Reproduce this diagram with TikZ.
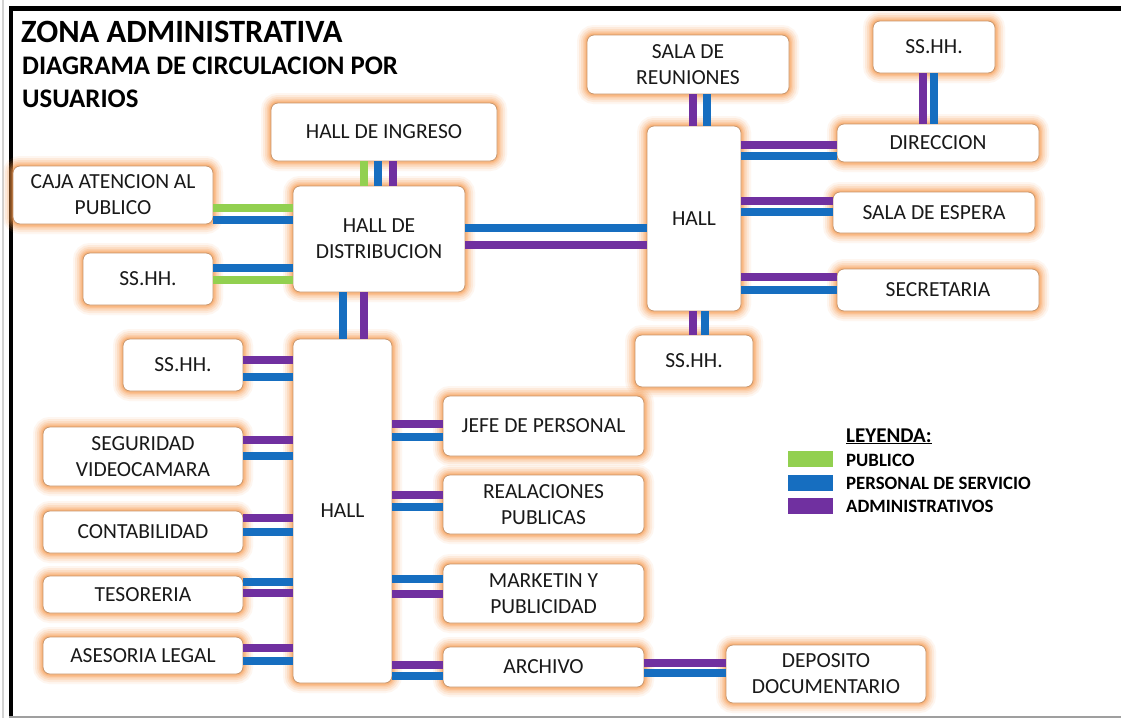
\documentclass[tikz,border=0pt]{standalone}
\usepackage{fontspec}
\setmainfont{Carlito}
\definecolor{cpub}{RGB}{146,208,80}
\definecolor{cser}{RGB}{22,110,192}
\definecolor{cadm}{RGB}{112,48,160}
\definecolor{glow}{RGB}{247,150,70}
\definecolor{boxline}{RGB}{200,150,110}
\definecolor{txt}{RGB}{25,25,25}
\begin{document}
\begin{tikzpicture}[x=1pt,y=-1pt,
  box/.style={rectangle, rounded corners=7pt, fill=white, draw=boxline, line width=0.8pt,
    align=center, font=\fontsize{21.5}{26}\selectfont, text=txt, inner sep=0pt,
    preaction={draw=glow, draw opacity=0.08, line width=20pt},
    preaction={draw=glow, draw opacity=0.12, line width=16pt},
    preaction={draw=glow, draw opacity=0.15, line width=12pt},
    preaction={draw=glow, draw opacity=0.19, line width=8.5pt},
    preaction={draw=glow, draw opacity=0.24, line width=5.5pt},
    preaction={draw=glow, draw opacity=0.3, line width=3pt}},
  pub/.style={line width=7.5pt, draw=cpub},
  ser/.style={line width=7.5pt, draw=cser},
  adm/.style={line width=7.5pt, draw=cadm},
  ttl/.style={anchor=base west, inner sep=0pt, text=black, font=\bfseries\fontsize{#1}{#1}\selectfont},
  leg/.style={anchor=base west, inner sep=0pt, text=black, font=\bfseries\fontsize{18.8}{18.8}\selectfont},
  swatch/.style={inner sep=0pt, minimum width=45pt, minimum height=16pt, fill=#1}
]
\fill[white] (0,0) rectangle (1121,718);
\useasboundingbox (0,0) rectangle (1121,718);
% frame
\draw[gray!35, line width=1.5pt] (3,0) -- (3,718);
\draw[line width=5pt, black] (9,8.5) -- (1121,8.5);
\draw[line width=4pt, black] (11,6) -- (11,716);
\draw[gray!75, line width=2pt] (9,716.5) -- (1121,716.5);

% titles
\node[ttl=32.5] (t1) at (21,42) {ZONA ADMINISTRATIVA};
\node[ttl=26.8] (t2) at (22,74) {DIAGRAMA DE CIRCULACION POR};
\node[ttl=26.8] (t3) at (22,107) {USUARIOS};

% boxes
\node[box, minimum width=226pt, minimum height=58pt] (ingreso) at (384,132) {HALL DE INGRESO};
\node[box, minimum width=200pt, minimum height=58pt] (caja) at (113,195) {CAJA ATENCION AL\\PUBLICO};
\node[box, minimum width=172pt, minimum height=106pt] (hd) at (379,239) {HALL DE\\DISTRIBUCION};
\node[box, minimum width=130pt, minimum height=52pt] (ss1) at (148,279) {SS.HH.};
\node[box, minimum width=202pt, minimum height=59pt] (reun) at (688,64.5) {SALA DE\\REUNIONES};
\node[box, minimum width=122pt, minimum height=52pt] (ss2) at (934,47) {SS.HH.};
\node[box, minimum width=94pt, minimum height=185pt] (hallR) at (694,218.5) {HALL};
\node[box, minimum width=202pt, minimum height=38pt] (dir) at (938,143) {DIRECCION};
\node[box, minimum width=202pt, minimum height=41pt] (esp) at (934,212.5) {SALA DE ESPERA};
\node[box, minimum width=202pt, minimum height=42pt] (sec) at (938,290) {SECRETARIA};
\node[box, minimum width=118pt, minimum height=52pt] (ss3) at (694,361) {SS.HH.};
\node[box, minimum width=120pt, minimum height=52pt] (ss4) at (183,365) {SS.HH.};
\node[box, minimum width=200pt, minimum height=59pt] (seg) at (143,456.5) {SEGURIDAD\\VIDEOCAMARA};
\node[box, minimum width=200pt, minimum height=42pt] (cont) at (143,532) {CONTABILIDAD};
\node[box, minimum width=200pt, minimum height=37pt] (tes) at (143,594.5) {TESORERIA};
\node[box, minimum width=200pt, minimum height=37pt] (ases) at (143,655.5) {ASESORIA LEGAL};
\node[box, minimum width=99pt, minimum height=344pt] (hallL) at (342.5,511) {HALL};
\node[box, minimum width=201pt, minimum height=60pt] (jefe) at (543.5,426) {JEFE DE PERSONAL};
\node[box, minimum width=201pt, minimum height=59pt] (rel) at (543.5,504.5) {REALACIONES\\PUBLICAS};
\node[box, minimum width=201pt, minimum height=59pt] (mkt) at (543.5,593.5) {MARKETIN Y\\PUBLICIDAD};
\node[box, minimum width=201pt, minimum height=40pt] (arch) at (543.5,667) {ARCHIVO};
\node[box, minimum width=200pt, minimum height=58pt] (dep) at (826,674) {DEPOSITO\\DOCUMENTARIO};

% connectors
\draw[pub] (ingreso.south -| 364,0) -- (hd.north -| 364,0);
\draw[ser] (ingreso.south -| 378,0) -- (hd.north -| 378,0);
\draw[adm] (ingreso.south -| 393,0) -- (hd.north -| 393,0);
\draw[pub] (caja.east |- 0,208) -- (hd.west |- 0,208);
\draw[ser] (caja.east |- 0,220) -- (hd.west |- 0,220);
\draw[ser] (ss1.east |- 0,268) -- (hd.west |- 0,268);
\draw[pub] (ss1.east |- 0,280) -- (hd.west |- 0,280);
\draw[ser] (hd.south -| 343,0) -- (hallL.north -| 343,0);
\draw[adm] (hd.south -| 364,0) -- (hallL.north -| 364,0);
\draw[ser] (hd.east |- 0,228) -- (hallR.west |- 0,228);
\draw[adm] (hd.east |- 0,245) -- (hallR.west |- 0,245);
\draw[adm] (reun.south -| 693,0) -- (hallR.north -| 693,0);
\draw[ser] (reun.south -| 707,0) -- (hallR.north -| 707,0);
\draw[adm] (ss2.south -| 923,0) -- (dir.north -| 923,0);
\draw[ser] (ss2.south -| 934,0) -- (dir.north -| 934,0);
\draw[adm] (hallR.east |- 0,145) -- (dir.west |- 0,145);
\draw[ser] (hallR.east |- 0,156) -- (dir.west |- 0,156);
\draw[adm] (hallR.east |- 0,201) -- (esp.west |- 0,201);
\draw[ser] (hallR.east |- 0,212) -- (esp.west |- 0,212);
\draw[adm] (hallR.east |- 0,277) -- (sec.west |- 0,277);
\draw[ser] (hallR.east |- 0,290) -- (sec.west |- 0,290);
\draw[adm] (hallR.south -| 693,0) -- (ss3.north -| 693,0);
\draw[ser] (hallR.south -| 705,0) -- (ss3.north -| 705,0);
\draw[adm] (ss4.east |- 0,360) -- (hallL.west |- 0,360);
\draw[ser] (ss4.east |- 0,377) -- (hallL.west |- 0,377);
\draw[adm] (seg.east |- 0,440) -- (hallL.west |- 0,440);
\draw[ser] (seg.east |- 0,456) -- (hallL.west |- 0,456);
\draw[adm] (cont.east |- 0,518) -- (hallL.west |- 0,518);
\draw[ser] (cont.east |- 0,532) -- (hallL.west |- 0,532);
\draw[ser] (tes.east |- 0,582) -- (hallL.west |- 0,582);
\draw[adm] (tes.east |- 0,593) -- (hallL.west |- 0,593);
\draw[adm] (ases.east |- 0,648) -- (hallL.west |- 0,648);
\draw[ser] (ases.east |- 0,661) -- (hallL.west |- 0,661);
\draw[adm] (hallL.east |- 0,424) -- (jefe.west |- 0,424);
\draw[ser] (hallL.east |- 0,437) -- (jefe.west |- 0,437);
\draw[adm] (hallL.east |- 0,495) -- (rel.west |- 0,495);
\draw[ser] (hallL.east |- 0,507) -- (rel.west |- 0,507);
\draw[ser] (hallL.east |- 0,579) -- (mkt.west |- 0,579);
\draw[adm] (hallL.east |- 0,594) -- (mkt.west |- 0,594);
\draw[adm] (hallL.east |- 0,665) -- (arch.west |- 0,665);
\draw[ser] (hallL.east |- 0,676) -- (arch.west |- 0,676);
\draw[adm] (arch.east |- 0,663) -- (dep.west |- 0,663);
\draw[ser] (arch.east |- 0,673) -- (dep.west |- 0,673);

% legend
\node[anchor=base west, inner sep=0pt, text=black, font=\bfseries\fontsize{21}{21}\selectfont] (legt) at (846,442) {\underline{LEYENDA:}};
\node[swatch=cpub] (sw1) at (810.5,459) {};
\node[swatch=cser] (sw2) at (810.5,483) {};
\node[swatch=cadm] (sw3) at (810.5,505.5) {};
\node[leg] (l1) at (846,466) {PUBLICO};
\node[leg] (l2) at (846,489) {PERSONAL DE SERVICIO};
\node[leg] (l3) at (846,512) {ADMINISTRATIVOS};
\end{tikzpicture}
\end{document}
